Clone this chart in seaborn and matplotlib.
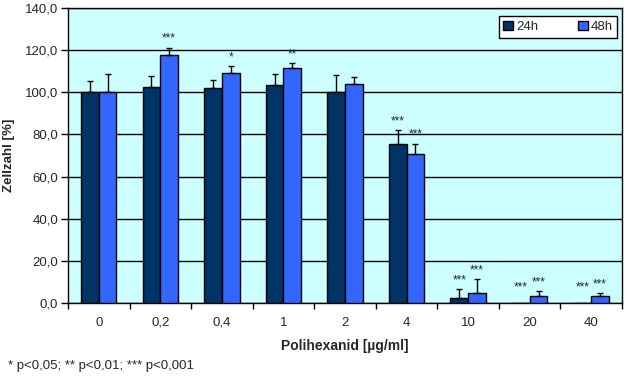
import numpy as np
import pandas as pd
import matplotlib
matplotlib.use("Agg")
import matplotlib.pyplot as plt
import seaborn as sns

sns.set_style("white")
plt.rcParams['font.family'] = ['Liberation Sans', 'DejaVu Sans']

# Data
konz = ['0', '0,2', '0,4', '1', '2', '4', '10', '20', '40']
werte_24h = [100.0, 102.4, 101.9, 103.3, 100.0, 75.5, 2.2, 0.0, 0.0]
fehler_24h = [5.2, 5.2, 3.8, 5.2, 8.1, 6.5, 4.3, 0.0, 0.0]
werte_48h = [100.0, 117.5, 109.0, 111.4, 103.8, 70.8, 4.7, 3.2, 3.2]
fehler_48h = [8.5, 3.7, 3.3, 2.4, 3.3, 4.7, 6.5, 2.3, 1.4]
sterne_24h = ['', '', '', '', '', '***', '***', '***', '***']
sterne_48h = ['', '***', '*', '**', '', '***', '***', '***', '***']
gruppen = ['24h', '48h']
farben = ['#003366', '#3366FF']

df = pd.DataFrame({
    'Konzentration': konz * 2,
    'Zellzahl': werte_24h + werte_48h,
    'Zeit': ['24h'] * len(konz) + ['48h'] * len(konz),
})

fig = plt.figure(figsize=(6.27, 3.77), dpi=100)
ax = fig.add_axes([68 / 627, 74 / 377, 554 / 627, 295 / 377])
ax.set_facecolor('#CCFFFF')

sns.barplot(data=df, x='Konzentration', y='Zellzahl', hue='Zeit',
            hue_order=gruppen, palette=farben, order=konz, width=0.575,
            errorbar=None, edgecolor='black', linewidth=1, ax=ax,
            saturation=1, zorder=3)

# Error bars (upper only) and significance stars
for cont, fehler, sterne in zip(ax.containers, [fehler_24h, fehler_48h],
                                [sterne_24h, sterne_48h]):
    xs = [b.get_x() + b.get_width() / 2 for b in cont]
    hs = [b.get_height() for b in cont]
    e = np.array(fehler)
    mask = e > 0
    ax.errorbar(np.array(xs)[mask], np.array(hs)[mask],
                yerr=[np.zeros(mask.sum()), e[mask]], fmt='none',
                ecolor='black', elinewidth=1, capsize=2.5, capthick=1,
                zorder=4)
    for x, h, f, s in zip(xs, hs, fehler, sterne):
        if s:
            ax.text(x, max(h + f, 3) + 1.5, s, ha='center', va='bottom',
                    fontsize=8.5, zorder=5)

ax.set_ylim(0, 140)
ax.set_xlim(-0.5, len(konz) - 0.5)
ax.set_yticks(np.arange(0, 141, 20))
ax.set_yticklabels([f'{v:.1f}'.replace('.', ',') for v in range(0, 141, 20)],
                   fontsize=9.5)
ax.yaxis.grid(True, color='black', linewidth=1)
ax.set_axisbelow(True)

# category boundaries get the tick marks, labels at the centres
ax.set_xticks(np.arange(-0.5, len(konz), 1))
ax.set_xticklabels([])
ax.set_xticks(np.arange(len(konz)), minor=True)
ax.set_xticklabels(konz, minor=True, fontsize=9.5)
ax.tick_params(axis='x', which='major', length=4, width=1, direction='out',
               bottom=True, color='black')
ax.tick_params(axis='x', which='minor', length=0, pad=10)
ax.tick_params(axis='y', length=5, width=1, direction='out', left=True,
               color='black', pad=2)

for sp in ax.spines.values():
    sp.set_color('black')
    sp.set_linewidth(1)

ax.set_xlabel('Polihexanid [µg/ml]', fontsize=10, fontweight='bold',
              labelpad=7)
ax.set_ylabel('Zellzahl [%]', fontsize=9.5, fontweight='bold', labelpad=7)

leg = ax.legend(loc='upper right', bbox_to_anchor=(0.991, 0.973), ncol=2,
                fontsize=9.5, frameon=True, fancybox=False, edgecolor='black',
                framealpha=1, handlelength=0.75, handleheight=0.75,
                handletextpad=0.2, columnspacing=3.0, borderpad=0.35,
                borderaxespad=0)
leg.get_frame().set_linewidth(1)
for h in leg.legend_handles:
    h.set_edgecolor('black')

fig.text(8 / 627, 1 - 366 / 377, '* p<0,05; ** p<0,01; *** p<0,001',
         fontsize=9.5, va='center', ha='left')

plt.savefig('out.png', dpi=100)
